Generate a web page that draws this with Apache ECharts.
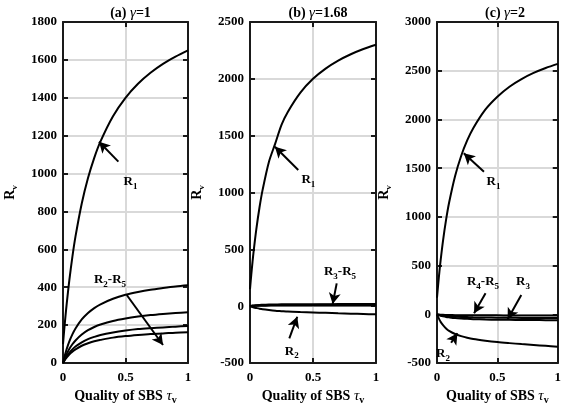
<!DOCTYPE html>
<html><head><meta charset="utf-8">
<script src="https://cdn.jsdelivr.net/npm/echarts@6/dist/echarts.min.js"></script>
<style>html,body{margin:0;padding:0;background:#fff}#c{width:564px;height:413px}</style>
</head><body><div id="c"></div><script>
// ---- data ----
const tau = [0,0.01,0.02,0.03,0.05,0.075,0.1,0.15,0.2,0.25,0.3,0.4,0.5,0.6,0.7,0.8,0.9,1];
// (a) gamma = 1
const a_R1 = [100,177,249,315,433,560,668,842,976,1083,1170,1303,1400,1474,1532,1579,1617,1650];
const a_R2 = [0,28,53,75,113,151,182,230,264,290,310,339,360,375,387,396,404,410];
const a_R3 = [0,18,35,49,74,99,119,150,173,190,203,222,235,245,253,259,264,268];
const a_R4 = [0,13,25,36,54,72,87,109,126,138,148,161,171,179,184,188,192,195];
const a_R5 = [0,11,21,30,45,60,72,91,104,115,122,134,142,148,153,156,160,162];
// (b) gamma = 1.68
const b_R1 = [150,276,390,494,676,866,1023,1269,1430,1595,1709,1879,2000,2090,2160,2216,2262,2300];
const b_R2 = [0,-4,-8,-11,-16,-22,-27,-34,-40,-44,-48,-52,-55,-59,-63,-66,-69,-72];
const b_R3 = [0,3,5,7,9,11,12,14,15,16,16,17,17,17,18,18,18,18];
const b_R4 = [0,2,3,4,6,7,8,9,10,10,11,11,11,12,12,12,12,12];
const b_R5 = [0,1,2,2,3,4,4,5,5,5,5,6,6,6,6,6,6,6];
// (c) gamma = 2
const c_R1 = [170,310,438,554,757,969,1145,1420,1625,1784,1910,2100,2233,2336,2414,2477,2528,2570];
const c_R2 = [0,-30,-55,-78,-112,-145,-170,-202,-224,-241,-254,-271,-285,-296,-306,-315,-324,-333];
const c_R3 = [0,-6,-11,-15,-21,-27,-31,-38,-43,-47,-50,-54,-56,-57,-58,-59,-60,-60];
const c_R4 = [0,-2,-3,-4,-6,-7,-8,-9,-10,-10,-11,-11,-11,-12,-12,-12,-12,-12];
const c_R5 = [0,-4,-7,-10,-14,-17,-20,-24,-27,-29,-31,-33,-35,-36,-37,-37,-38,-38];

const titles = ['(a) {g|γ}=1', '(b) {g|γ}=1.68', '(c) {g|γ}=2'];
const yMin = [0, -500, -500];
const yMax = [1800, 2500, 3000];
const yInterval = [200, 500, 500];
const xTicks = [0, 0.5, 1];

// annotations in data coordinates: arrows [tail, tip], labels [tau, value, text]
const arrows = [
  [[[0.443,1063],[0.288,1168]], [[0.51,359],[0.80,95]]],
  [[[0.383,1198],[0.198,1403]], [[0.688,201],[0.656,19]], [[0.312,-283],[0.375,-93]]],
  [[[0.389,1463],[0.222,1652]], [[0.402,215],[0.307,10]], [[0.698,198],[0.585,-51]], [[0.117,-292],[0.169,-195]]]
];
const labels = [
  [[0.54,955,'{m|R}{s|1}'], [0.376,438,'{m|R}{s|2}{m|-R}{s|5}']],
  [[0.463,1110,'{m|R}{s|1}'], [0.714,303,'{m|R}{s|3}{m|-R}{s|5}'], [0.331,-400,'{m|R}{s|2}']],
  [[0.468,1361,'{m|R}{s|1}'], [0.381,334,'{m|R}{s|4}{m|-R}{s|5}'], [0.712,334,'{m|R}{s|3}'], [0.05,-408,'{m|R}{s|2}']]
];

// ---- layout ----
const FONT = '"Liberation Serif","Times New Roman",serif';
const gridsPx = [{left:63,width:125},{left:250,width:126},{left:437,width:126}];
const TOP = 22, HEIGHT = 341;
const richLbl = {
  m:{fontFamily:FONT,fontWeight:'bold',fontSize:13,color:'#000'},
  s:{fontFamily:FONT,fontWeight:'bold',fontSize:9,color:'#000',padding:[9,0,0,0]}
};

const grid = gridsPx.map(g => ({left:g.left, width:g.width, top:TOP, height:HEIGHT, containLabel:false}));
const title = titles.map((t,i) => ({
  text:t, left:gridsPx[i].left + gridsPx[i].width/2, top:1, textAlign:'center',
  textStyle:{fontFamily:FONT,fontWeight:'bold',fontSize:14,color:'#000',
    rich:{g:{fontFamily:FONT,fontStyle:'italic',fontWeight:'normal',fontSize:15,color:'#000'}}}
}));

const axLabel = {fontFamily:FONT, fontWeight:'bold', fontSize:13, color:'#000', formatter:v=>String(v)};
function axLine(){ return {show:true, onZero:false, lineStyle:{color:'#1a1a1a', width:2}}; }
function axTick(){ return {show:true, inside:true, length:5, lineStyle:{color:'#1a1a1a', width:2}}; }
function split(){ return {show:true, lineStyle:{color:'#d9d9d9', width:2, type:'solid', opacity:1}}; }

const xAxis = [], yAxis = [];
for (let i=0;i<3;i++){
  xAxis.push({type:'value', gridIndex:i, z:0, min:xTicks[0], max:xTicks[2], interval:xTicks[1]-xTicks[0],
    position:'bottom', axisLine:axLine(), axisTick:axTick(), splitLine:split(),
    axisLabel:Object.assign({margin:8}, axLabel),
    name:'{m|Quality of SBS }{t|τ}{s|v}', nameLocation:'middle', nameGap:22,
    nameTextStyle:{rich:{
      m:{fontFamily:FONT,fontWeight:'bold',fontSize:14,color:'#000'},
      t:{fontFamily:FONT,fontStyle:'italic',fontSize:15,color:'#000'},
      s:{fontFamily:FONT,fontWeight:'bold',fontSize:10,color:'#000',padding:[9,0,0,0]}}}
  });
}
for (let i=0;i<3;i++){
  xAxis.push({type:'value', gridIndex:i, z:0, min:xTicks[0], max:xTicks[2], interval:xTicks[1]-xTicks[0],
    position:'top', axisLine:axLine(), axisTick:axTick(), splitLine:{show:false}, axisLabel:{show:false}});
}
for (let i=0;i<3;i++){
  yAxis.push({type:'value', gridIndex:i, z:0, min:yMin[i], max:yMax[i], interval:yInterval[i],
    position:'left', axisLine:axLine(), axisTick:axTick(), splitLine:split(),
    axisLabel:Object.assign({margin:6}, axLabel),
    name:'{m|R}{s|v}', nameLocation:'middle', nameGap:44, nameRotate:90,
    nameTextStyle:{rich:{
      m:{fontFamily:FONT,fontWeight:'bold',fontSize:14,color:'#000'},
      s:{fontFamily:FONT,fontWeight:'bold',fontSize:9,color:'#000',padding:[9,0,0,0]}}}
  });
}
for (let i=0;i<3;i++){
  yAxis.push({type:'value', gridIndex:i, z:0, min:yMin[i], max:yMax[i], interval:yInterval[i],
    position:'right', axisLine:axLine(), axisTick:axTick(), splitLine:{show:false}, axisLabel:{show:false}});
}

const panels = [[a_R1,a_R2,a_R3,a_R4,a_R5],[b_R1,b_R2,b_R3,b_R4,b_R5],[c_R1,c_R2,c_R3,c_R4,c_R5]];
const series = [];
panels.forEach((arrs,p) => {
  arrs.forEach((vals,k) => {
    const s = {type:'line', xAxisIndex:p, yAxisIndex:p, data:tau.map((t,j)=>[t,vals[j]]),
      showSymbol:false, symbol:'none', smooth:0.3,
      lineStyle:{color:'#000', width:2}, z:10, silent:true};
    if (k===0){
      s.markLine = {silent:true, z:12, symbol:['none','arrow'], symbolSize:[9,11], animation:false,
        label:{show:false}, lineStyle:{color:'#000', width:2, type:'solid'},
        data: arrows[p].map(a => [{coord:a[0]},{coord:a[1]}])};
      s.markPoint = {silent:true, z:13, animation:false, symbol:'circle', symbolSize:1,
        itemStyle:{color:'rgba(0,0,0,0)'},
        label:{show:true, position:'inside', rich:richLbl},
        data: labels[p].map(l => ({coord:[l[0],l[1]], value:0, label:{formatter:l[2]}}))};
    }
    series.push(s);
  });
});

const chart = echarts.init(document.getElementById('c'), null, {renderer:'canvas'});
chart.setOption({animation:false, backgroundColor:'#fff', title, grid, xAxis, yAxis, series});
</script></body></html>
